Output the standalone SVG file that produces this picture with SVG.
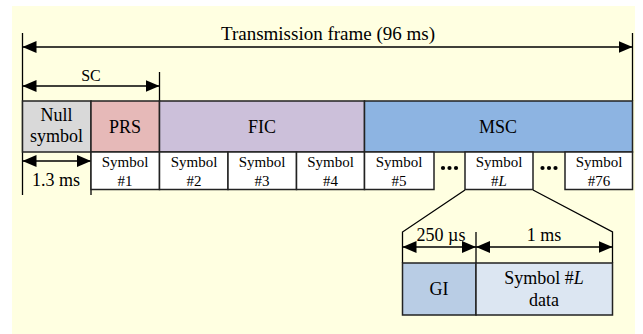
<svg xmlns="http://www.w3.org/2000/svg" width="643" height="334" viewBox="0 0 643 334">
<style>
text{font-family:"Liberation Serif","Times New Roman",serif;fill:#000;text-anchor:middle}
.big{font-size:18px}
.sm{font-size:15px}
.box{stroke:#222;stroke-width:1.5}
.ln{stroke:#000;stroke-width:1.3;fill:none}
.arr{stroke:#000;stroke-width:1.3;fill:none;marker-start:url(#ah);marker-end:url(#ah)}
</style>
<defs>
<marker id="ah" markerUnits="userSpaceOnUse" markerWidth="14" markerHeight="12" refX="14" refY="6" orient="auto-start-reverse" viewBox="0 0 14 12">
<path d="M0,0 L14,6 L0,12 z" fill="#000"/>
</marker>
</defs>
<rect x="12" y="6" width="623" height="328" fill="#FFFFE1"/>

<g id="connectors">
<line class="ln" x1="22.5" y1="33" x2="22.5" y2="195"/>
<line class="ln" x1="632.5" y1="33" x2="632.5" y2="101"/>
<line class="ln" x1="159.5" y1="72" x2="159.5" y2="101"/>
<line class="ln" x1="91" y1="152" x2="91" y2="195"/>
<line class="arr" x1="22.5" y1="47" x2="632.5" y2="47"/>
<line class="arr" x1="22.5" y1="86" x2="159.5" y2="86"/>
<line class="arr" x1="22.5" y1="161" x2="91" y2="161"/>
<polyline class="ln" points="465,190 402.5,232 402.5,263"/>
<polyline class="ln" points="533,190 612.5,232 612.5,263"/>
<line class="ln" x1="476" y1="232" x2="476" y2="263"/>
<line class="arr" x1="402.5" y1="247" x2="476" y2="247"/>
<line class="arr" x1="476" y1="247" x2="612.5" y2="247"/>
</g>

<g id="title"><text class="big" x="328" y="40" style="font-size:19px">Transmission frame (96 ms)</text></g>
<g id="sc-label"><text class="sm" x="91" y="81" style="font-size:16px">SC</text></g>
<g id="dur-null"><text class="big" x="56" y="186">1.3 ms</text></g>
<g id="dur-gi"><text class="big" x="441" y="241">250 µs</text></g>
<g id="dur-data"><text class="big" x="544" y="241">1 ms</text></g>

<g id="null"><rect class="box" x="22.5" y="101" width="68.5" height="51" fill="#D9D9D9"/>
<text class="big" x="56.5" y="121">Null</text><text class="big" x="56.5" y="142">symbol</text></g>
<g id="prs"><rect class="box" x="91" y="101" width="68.5" height="51" fill="#E6B9B8"/>
<text class="big" x="125" y="133">PRS</text></g>
<g id="fic"><rect class="box" x="159.5" y="101" width="205" height="51" fill="#CCC0DA"/>
<text class="big" x="262" y="133">FIC</text></g>
<g id="msc"><rect class="box" x="364.5" y="101" width="268" height="51" fill="#8DB4E2"/>
<text class="big" x="498" y="133">MSC</text></g>

<g id="sym1"><rect class="box" x="91" y="152" width="68.5" height="37.5" fill="#fff"/>
<text class="sm" x="125" y="167">Symbol</text><text class="sm" x="125" y="186">#1</text></g>
<g id="sym2"><rect class="box" x="159.5" y="152" width="68.5" height="37.5" fill="#fff"/>
<text class="sm" x="194" y="167">Symbol</text><text class="sm" x="194" y="186">#2</text></g>
<g id="sym3"><rect class="box" x="228" y="152" width="68.5" height="37.5" fill="#fff"/>
<text class="sm" x="262" y="167">Symbol</text><text class="sm" x="262" y="186">#3</text></g>
<g id="sym4"><rect class="box" x="296.5" y="152" width="68" height="37.5" fill="#fff"/>
<text class="sm" x="330.5" y="167">Symbol</text><text class="sm" x="330.5" y="186">#4</text></g>
<g id="sym5"><rect class="box" x="364.5" y="152" width="69.5" height="37.5" fill="#fff"/>
<text class="sm" x="399" y="167">Symbol</text><text class="sm" x="399" y="186">#5</text></g>
<g id="dots1" fill="#000"><circle cx="443" cy="168" r="2.1"/><circle cx="449.5" cy="168" r="2.1"/><circle cx="456" cy="168" r="2.1"/></g>
<g id="symL"><rect class="box" x="465" y="152" width="68" height="37.5" fill="#fff"/>
<text class="sm" x="499" y="167">Symbol</text><text class="sm" x="499" y="186">#<tspan font-style="italic">L</tspan></text></g>
<g id="dots2" fill="#000"><circle cx="542.5" cy="168" r="2.1"/><circle cx="549" cy="168" r="2.1"/><circle cx="555.5" cy="168" r="2.1"/></g>
<g id="sym76"><rect class="box" x="565" y="152" width="67.5" height="37.5" fill="#fff"/>
<text class="sm" x="599" y="167">Symbol</text><text class="sm" x="599" y="186">#76</text></g>

<g id="gi"><rect class="box" x="402.5" y="263" width="73.5" height="52" fill="#B9CDE5"/>
<text class="big" x="439" y="295">GI</text></g>
<g id="data"><rect class="box" x="476" y="263" width="136.5" height="52" fill="#DCE6F2"/>
<text class="big" x="544" y="284">Symbol #<tspan font-style="italic">L</tspan></text><text class="big" x="544" y="306">data</text></g>
</svg>
